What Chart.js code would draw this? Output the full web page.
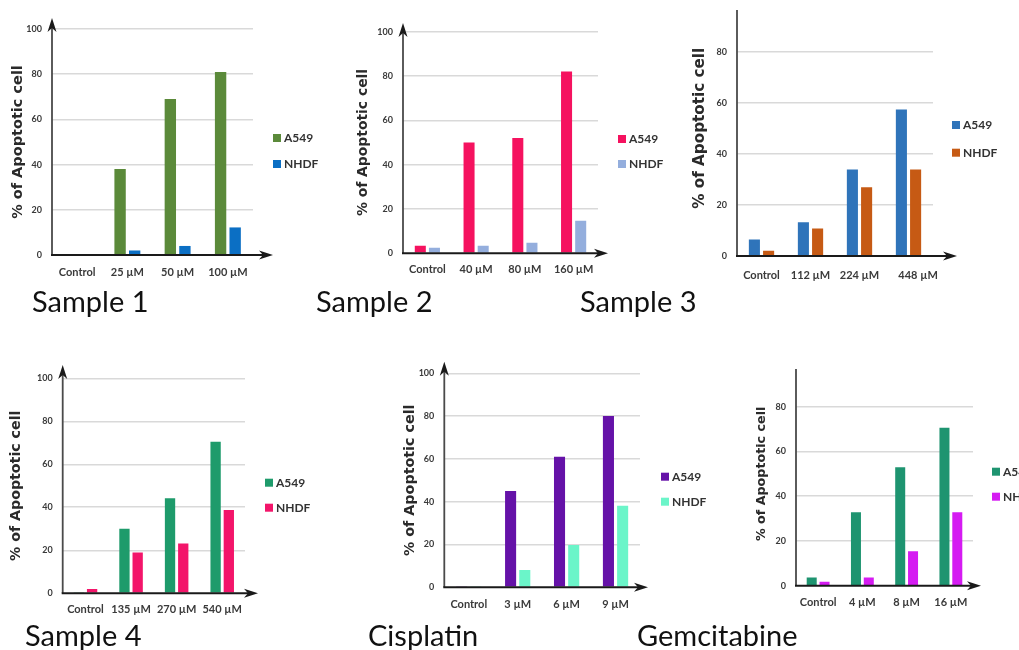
<!DOCTYPE html>
<html><head><meta charset="utf-8">
<script src="https://cdn.jsdelivr.net/npm/chart.js@4.4.1/dist/chart.umd.min.js"></script>
<style>
html,body{margin:0;padding:0;background:#fff;width:1019px;height:650px;overflow:hidden;position:relative;}
.wrap{position:absolute;left:0;overflow:hidden;width:1019px;}
.wrap canvas{position:absolute;left:0;}
.lbl{position:absolute;font-family:Lato,"Open Sans",sans-serif;font-size:29px;line-height:29px;color:#111;white-space:nowrap;}
</style></head><body>
<script>
// ---------- data ----------
const seriesNames = ['A549', 'NHDF'];
const yTickValues = [0, 20, 40, 60, 80, 100];
const yTitle = '% of Apoptotic cell';
const panelNames = ['Sample 1', 'Sample 2', 'Sample 3', 'Sample 4', 'Cisplatin', 'Gemcitabine'];

const s1Labels = ['Control', '25 µM', '50 µM', '100 µM'];
const s1A549 = [0.4, 38, 69, 81];
const s1NHDF = [0, 2, 4, 12.2];

const s2Labels = ['Control', '40 µM', '80 µM', '160 µM'];
const s2A549 = [3.4, 50, 52, 82];
const s2NHDF = [2.5, 3.4, 4.8, 14.7];

const s3Labels = ['Control', '112 µM', '224 µM', '448 µM'];
const s3A549 = [6.5, 13.2, 33.9, 57.4];
const s3NHDF = [2.1, 10.8, 26.9, 33.9];

const s4Labels = ['Control', '135 µM', '270 µM', '540 µM'];
const s4A549 = [0.3, 30, 44.2, 70.5];
const s4NHDF = [2, 19, 23.2, 38.7];

const cisLabels = ['Control', '3 µM', '6 µM', '9 µM'];
const cisA549 = [0.5, 45, 61, 80];
const cisNHDF = [0.3, 8.1, 19.8, 38.1];

const gemLabels = ['Control', '4 µM', '8 µM', '16 µM'];
const gemA549 = [3.7, 32.8, 52.9, 70.6];
const gemNHDF = [1.8, 3.7, 15.4, 32.8];

// ---------- layout / style ----------
const panels = [
  {labels:s1Labels, a:s1A549, n:s1NHDF, colors:['#5B8A3A','#0B6FC4'],
   axisX:52, right:253, y100:29, y0:255, tipY:18, tipX:273, labPad:11,
   legX:273, legY:[138,164], titleX:18, titleSize:14.5, clipTop:0, canvasTop:0, yArrow:true},
  {labels:s2Labels, a:s2A549, n:s2NHDF, colors:['#F5125F','#94AEDD'],
   axisX:403, right:598, y100:31.7, y0:253.3, tipY:23, tipX:608, labPad:10,
   legX:618, legY:[139,164], titleX:363, titleSize:13.9, clipTop:0, canvasTop:0, yArrow:true},
  {labels:s3Labels, a:s3A549, n:s3NHDF, colors:['#2F74BA','#C65A14'],
   axisX:737, right:933, y100:0.6, y0:256, tipY:null, tipX:957, labPad:12.4,
   legX:952, legY:[125,152.7], titleX:700, titleSize:15.2, clipTop:10, canvasTop:-40, yArrow:false, shiftLast:3},
  {labels:s4Labels, a:s4A549, n:s4NHDF, colors:['#1E9B6B','#F3156A'],
   axisX:62.7, right:245, y100:378.3, y0:593.3, tipY:365, tipX:258, labPad:10,
   legX:265, legY:[482.7,507.7], titleX:16.7, titleSize:14.2, clipTop:0, canvasTop:0, yArrow:true},
  {labels:cisLabels, a:cisA549, n:cisNHDF, colors:['#6512A8','#6BF5C9'],
   axisX:444.3, right:640, y100:373.3, y0:587.3, tipY:361.7, tipX:648, labPad:11,
   legX:661, legY:[476.7,501.7], titleX:410, titleSize:14.3, clipTop:0, canvasTop:0, yArrow:true},
  {labels:gemLabels, a:gemA549, n:gemNHDF, colors:['#1E9470','#D51BF2'],
   axisX:796, right:973, y100:362, y0:585.7, tipY:null, tipX:981, labPad:10.4,
   legX:992, legY:[471.7,496.7], titleX:761.7, titleSize:12.7, clipTop:369, canvasTop:0, yArrow:false}
];
const panelLabelPos = [[32,312],[316,312],[580,312],[25,646],[368,646],[637,646]];

function arrowHead(ctx, x, y, dir) {
  ctx.beginPath();
  if (dir === 'right') {
    ctx.moveTo(x, y); ctx.lineTo(x - 14, y - 4.5); ctx.lineTo(x - 10, y); ctx.lineTo(x - 14, y + 4.5);
  } else {
    ctx.moveTo(x, y); ctx.lineTo(x - 4.5, y + 14); ctx.lineTo(x, y + 10); ctx.lineTo(x + 4.5, y + 14);
  }
  ctx.closePath(); ctx.fill();
}

const decoPlugin = {
  id: 'deco',
  afterDatasetsDraw(chart, args, o) {
    const ctx = chart.ctx;
    const {left, top, bottom} = chart.chartArea;
    ctx.save();
    // y axis
    ctx.strokeStyle = '#4a4a4a'; ctx.fillStyle = '#1a1a1a'; ctx.lineWidth = 1.8;
    ctx.beginPath(); ctx.moveTo(left, bottom);
    ctx.lineTo(left, o.yArrow ? o.tipY + 8 : top - 20); ctx.stroke();
    if (o.yArrow) arrowHead(ctx, left, o.tipY, 'up');
    // x axis
    ctx.strokeStyle = '#1a1a1a'; ctx.lineWidth = 2;
    ctx.beginPath(); ctx.moveTo(left - 1, bottom); ctx.lineTo(o.tipX - 8, bottom); ctx.stroke();
    arrowHead(ctx, o.tipX, bottom, 'right');
    // legend
    ctx.font = 'bold 12px Lato, sans-serif';
    ctx.textBaseline = 'middle'; ctx.textAlign = 'left';
    chart.data.datasets.forEach((ds, i) => {
      const y = o.legY[i];
      ctx.fillStyle = ds.backgroundColor;
      ctx.fillRect(o.legX, y - 4, 8, 8);
      ctx.fillStyle = '#333';
      ctx.fillText(ds.label, o.legX + 11, y + 0.5);
    });
    ctx.restore();
  }
};

panels.forEach((p, k) => {
  const wrap = document.createElement('div');
  wrap.className = 'wrap';
  wrap.style.top = p.clipTop + 'px';
  wrap.style.height = (650 - p.clipTop) + 'px';
  const H = 650 - p.canvasTop;
  const cv = document.createElement('canvas');
  cv.width = 1019; cv.height = H;
  cv.style.width = '1019px'; cv.style.height = H + 'px';
  cv.style.top = (p.canvasTop - p.clipTop) + 'px';
  wrap.appendChild(cv);
  document.body.appendChild(wrap);

  const padLeft = p.titleX - 0.6 * p.titleSize;
  const yW = p.axisX - padLeft;
  const xH = H - (p.y0 - p.canvasTop);
  const off = {
    yArrow: p.yArrow,
    tipY: p.tipY === null ? null : p.tipY - p.canvasTop,
    tipX: p.tipX,
    legX: p.legX,
    legY: p.legY.map(v => v - p.canvasTop)
  };

  new Chart(cv, {
    type: 'bar',
    data: {
      labels: p.labels,
      datasets: [
        {label: seriesNames[0], data: p.a, backgroundColor: p.colors[0], borderWidth: 0,
         categoryPercentage: 0.58, barPercentage: 0.78},
        {label: seriesNames[1], data: p.n, backgroundColor: p.colors[1], borderWidth: 0,
         categoryPercentage: 0.58, barPercentage: 0.78}
      ]
    },
    options: {
      responsive: false,
      animation: false,
      devicePixelRatio: 1,
      layout: {padding: {left: padLeft, right: 1019 - p.right, top: p.y100 - p.canvasTop, bottom: 0}},
      plugins: {legend: {display: false}, tooltip: {enabled: false}, deco: off},
      scales: {
        x: {
          grid: {display: false, drawTicks: false},
          border: {display: false},
          ticks: {
            padding: p.labPad, color: '#3a3a3a', maxRotation: 0, autoSkip: false,
            font: {family: 'Lato', weight: 'bold', size: 11},
            callback: function(v, i) {
              const t = this.getLabelForValue(v);
              return (p.shiftLast && i === p.labels.length - 1) ? '\u2007'.repeat(p.shiftLast) + t : t;
            }
          },
          afterFit: s => { s.height = xH; }
        },
        y: {
          min: 0, max: 100,
          afterBuildTicks: s => { s.ticks = yTickValues.map(v => ({value: v})); },
          grid: {
            drawTicks: false, lineWidth: 1.6,
            color: c => (c.tick && c.tick.value === 0) ? 'rgba(0,0,0,0)' : '#d9d9d9'
          },
          border: {display: false},
          ticks: {padding: 10, color: '#3a3a3a', font: {family: 'Lato', weight: 'bold', size: 9}},
          title: {display: true, text: yTitle, color: '#2a2a2a', padding: 0,
                  font: {family: 'DejaVu Sans', weight: 'bold', size: p.titleSize}},
          afterFit: s => { s.width = yW; }
        }
      }
    },
    plugins: [decoPlugin]
  });
});

panelNames.forEach((name, i) => {
  const d = document.createElement('div');
  d.className = 'lbl';
  d.textContent = name;
  d.style.left = panelLabelPos[i][0] + 'px';
  d.style.top = (panelLabelPos[i][1] - 25.7) + 'px';
  document.body.appendChild(d);
});
</script>
</body></html>
